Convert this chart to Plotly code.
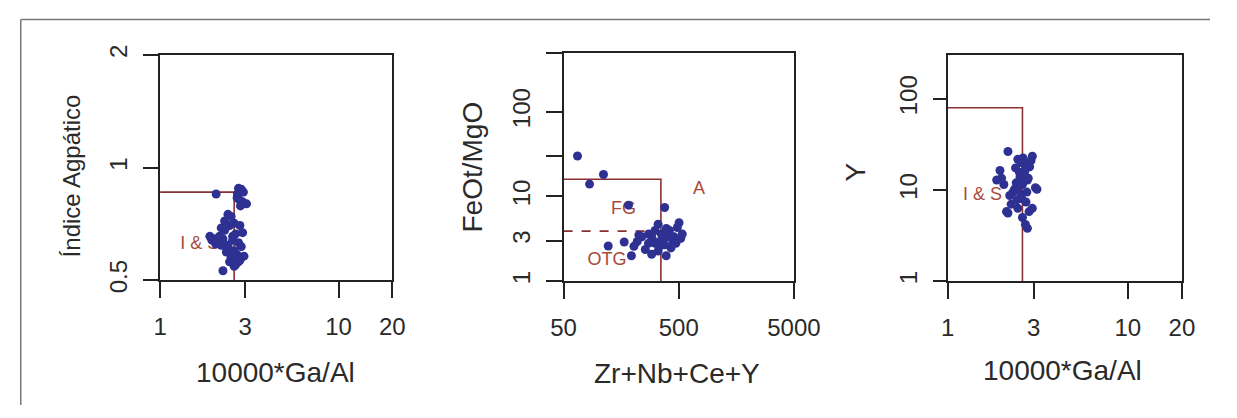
import math
import plotly.graph_objects as go

# ---------------- data ----------------
# Panel 1: 10000*Ga/Al vs Indice Agpatico
p1_x = [2.06, 2.75, 2.85, 2.71, 2.93, 2.78, 2.90, 3.05, 2.82, 2.70,
        2.40, 2.50, 2.30, 2.60, 2.45, 2.80, 2.30, 2.90, 2.65, 1.90,
        2.00, 2.10, 2.25, 2.55, 2.75, 2.40, 2.85, 2.60, 2.35, 2.70,
        2.95, 2.50, 2.80, 2.45, 2.65, 2.25, 2.75, 2.60, 2.20, 2.55,
        1.95, 2.05, 2.15, 2.20]
p1_y = [0.85, 0.88, 0.875, 0.85, 0.86, 0.82, 0.81, 0.80, 0.79, 0.83,
        0.75, 0.74, 0.72, 0.71, 0.70, 0.70, 0.68, 0.67, 0.665, 0.655,
        0.645, 0.63, 0.645, 0.64, 0.63, 0.62, 0.615, 0.60, 0.595, 0.585,
        0.58, 0.575, 0.565, 0.56, 0.55, 0.53, 0.56, 0.545, 0.69, 0.655,
        0.64, 0.625, 0.655, 0.62]

# Panel 2: Zr+Nb+Ce+Y vs FeOt/MgO
p2_x = [66, 111, 84, 183, 377, 122, 168, 194, 291, 389,
        503, 486, 537, 520, 472, 428, 331, 311, 291, 273,
        239, 218, 225, 204, 353, 377, 402, 340, 311, 273,
        415, 456, 256, 331, 353, 390, 445, 360, 300, 420]
p2_y = [30, 18.2, 14, 7.9, 7.4, 2.6, 2.9, 2.0, 2.08, 2.0,
        4.9, 4.3, 3.6, 3.2, 2.8, 2.47, 4.7, 3.97, 3.34, 3.6,
        3.34, 2.94, 3.5, 2.58, 3.06, 2.69, 3.34, 2.58, 2.8, 2.8,
        3.97, 3.34, 2.37, 2.27, 3.6, 4.2, 2.9, 3.1, 3.0, 3.5]

# Panel 3: 10000*Ga/Al vs Y
p3_x = [2.16, 2.95, 1.95, 1.87, 1.99, 2.45, 2.66, 2.50, 2.77, 3.07,
        2.35, 2.21, 2.55, 2.72, 2.12, 2.45, 2.83, 2.60, 2.77, 2.70,
        3.13, 2.95, 2.16, 2.40, 2.60, 2.85, 2.30, 2.52, 2.68, 2.90,
        2.25, 2.58, 2.48, 2.80, 2.38, 2.62, 2.05, 2.75, 2.55, 2.42]
p3_y = [26.5, 23.5, 16.4, 12.9, 13.5, 21.7, 19.3, 15.7, 12.9, 10.6,
        10.2, 8.7, 9.0, 7.4, 5.8, 6.3, 5.8, 5.0, 3.8, 4.2,
        10.2, 6.3, 5.6, 12.0, 11.5, 18.0, 9.5, 14.0, 16.0, 21.0,
        7.0, 8.0, 11.0, 13.5, 17.5, 22.5, 11.5, 9.5, 20.0, 7.8]

# field boundaries
b1_x = [1, 2.6, 2.6]
b1_y = [0.86, 0.86, 0.5]
b2_x = [50, 350, 350]
b2_y = [16, 16, 1]
b2_dash_x = [50, 350]
b2_dash_y = [3.9, 3.9]
b3_x = [1, 2.6, 2.6]
b3_y = [80, 80, 1]

# field labels
lab1 = dict(x=[1.67], y=[0.624], t=["I & S"])
lab2 = dict(x=[166, 119, 750], y=[7.06, 1.75, 12.2], t=["FG", "OTG", "A"])
lab3 = dict(x=[1.56], y=[8.8], t=["I & S"])

# ticks
x1_ticks = [1, 3, 10, 20]
y1_ticks = [0.5, 1, 2]
x2_ticks = [50, 500, 5000]
y2_ticks = [1, 3, 10, 30, 100, 500]
y2_text = ["1", "3", "10", "", "100", ""]
x3_ticks = [1, 3, 10, 20]
y3_ticks = [1, 10, 100]

# ---------------- style ----------------
W, H = 1237, 418
FONT = "Liberation Sans, Arial, sans-serif"
PT = "#2E3192"
BR = "#8B3030"
LBL = "#A84A3C"
AX = "#222222"


def px_x(p):
    return p / W


def px_y(p):
    return 1 - p / H


fig = go.Figure()

panels = [
    ("x", "y", p1_x, p1_y, b1_x, b1_y, lab1),
    ("x2", "y2", p2_x, p2_y, b2_x, b2_y, lab2),
    ("x3", "y3", p3_x, p3_y, b3_x, b3_y, lab3),
]
for xa, ya, px, py, bx, by, lab in panels:
    fig.add_trace(go.Scatter(x=bx, y=by, xaxis=xa, yaxis=ya, mode="lines",
                             line=dict(color=BR, width=1.6), showlegend=False,
                             hoverinfo="skip"))
    if xa == "x2":
        fig.add_trace(go.Scatter(x=b2_dash_x, y=b2_dash_y, xaxis=xa, yaxis=ya,
                                 mode="lines",
                                 line=dict(color=BR, width=1.6, dash="dash"),
                                 showlegend=False, hoverinfo="skip"))
    fig.add_trace(go.Scatter(x=lab["x"], y=lab["y"], text=lab["t"], mode="text",
                             xaxis=xa, yaxis=ya,
                             textfont=dict(family=FONT, size=18, color=LBL),
                             showlegend=False, hoverinfo="skip"))
    fig.add_trace(go.Scatter(x=px, y=py, xaxis=xa, yaxis=ya, mode="markers",
                             marker=dict(color=PT, size=9, line=dict(width=0)),
                             showlegend=False))

common = dict(type="log", showgrid=False, zeroline=False, showline=True,
              linewidth=2, linecolor=AX, mirror=True, ticks="outside",
              tickwidth=2, tickcolor=AX,
              tickfont=dict(family=FONT, size=24, color="#2a2a2a"))

fig.update_layout(
    width=W, height=H, autosize=False,
    margin=dict(l=0, r=0, t=0, b=0),
    paper_bgcolor="white", plot_bgcolor="white",
    xaxis=dict(common, domain=[px_x(152), px_x(392)], anchor="y",
               range=[0, math.log10(20)], tickvals=x1_ticks,
               ticktext=[str(v) for v in x1_ticks], ticklen=16,
               ticklabelstandoff=8),
    yaxis=dict(common, domain=[px_y(286), px_y(47.5)], anchor="x",
               range=[math.log10(0.5), math.log10(2)], tickvals=y1_ticks,
               ticktext=["0.5", "1", "2"], ticklen=15, tickangle=-90,
               ticklabelstandoff=6),
    xaxis2=dict(common, domain=[px_x(569), px_x(807)], anchor="y2",
                range=[math.log10(50), math.log10(5000)], tickvals=x2_ticks,
                ticktext=[str(v) for v in x2_ticks], ticklen=16,
                ticklabelstandoff=8),
    yaxis2=dict(common, domain=[px_y(287), px_y(45)], anchor="x2",
                range=[0, math.log10(500)], tickvals=y2_ticks,
                ticktext=y2_text, ticklen=16, tickangle=-90,
                ticklabelstandoff=6),
    xaxis3=dict(common, domain=[px_x(966), px_x(1208)], anchor="y3",
                range=[0, math.log10(20)], tickvals=x3_ticks,
                ticktext=[str(v) for v in x3_ticks], ticklen=16,
                ticklabelstandoff=8),
    yaxis3=dict(common, domain=[px_y(287), px_y(48)], anchor="x3",
                range=[0, math.log10(300)], tickvals=y3_ticks,
                ticktext=[str(v) for v in y3_ticks], ticklen=13, tickangle=-90,
                ticklabelstandoff=6),
)

titles = [
    ("10000*Ga/Al", 271, 384, 0, 28),
    ("Zr+Nb+Ce+Y", 686, 385, 0, 28),
    ("10000*Ga/Al", 1085, 382, 0, 28),
    ("Índice Agpático", 60, 176, -90, 24),
    ("FeOt/MgO", 475, 166, -90, 28),
    ("Y", 871, 171, -90, 28),
]
for t, x, y, ang, sz in titles:
    fig.add_annotation(text=t, x=px_x(x), y=px_y(y), xref="paper", yref="paper",
                       showarrow=False, textangle=ang, xanchor="center",
                       yanchor="middle",
                       font=dict(family=FONT, size=sz, color="#2a2a2a"))

# outer frame (left and top edges)
fig.add_shape(type="line", xref="paper", yref="paper",
              x0=px_x(8), y0=px_y(10), x1=1, y1=px_y(10),
              line=dict(color="#777777", width=1.5))
fig.add_shape(type="line", xref="paper", yref="paper",
              x0=px_x(8), y0=px_y(10), x1=px_x(8), y1=0,
              line=dict(color="#777777", width=1.5))

fig.write_html(
    "out.html",
    post_script="document.body.style.margin='0px';"
                "document.body.style.overflow='hidden';",
)
